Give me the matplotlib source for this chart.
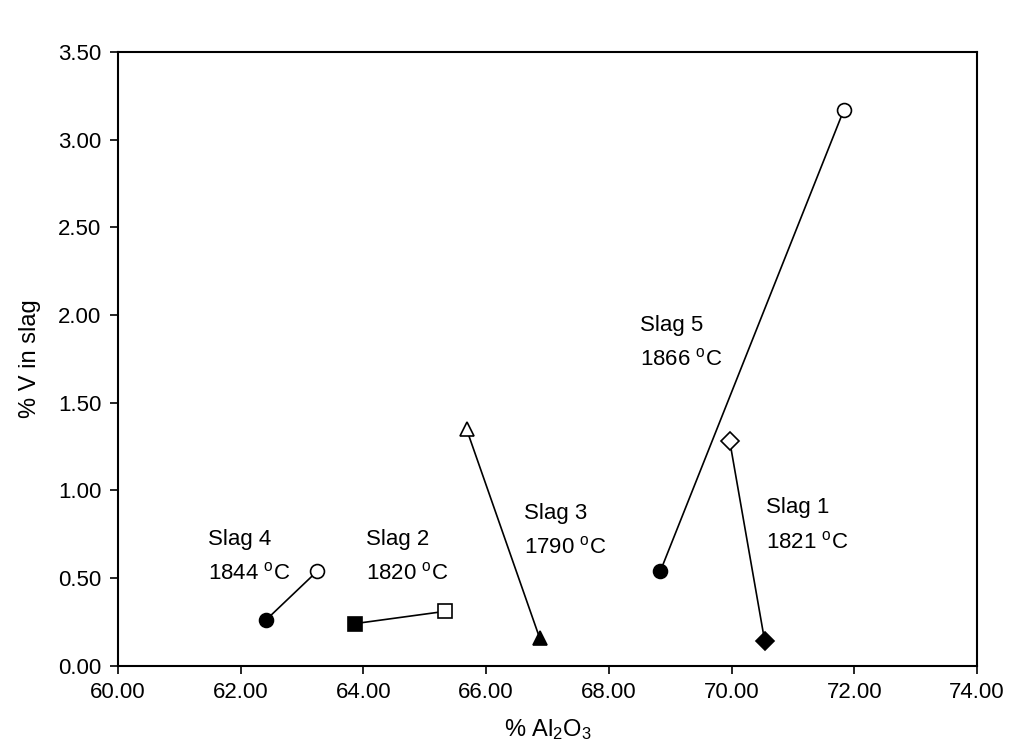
"""
% V in slag vs % Al2O3 for five slags: open marker = start, filled marker = end.
"""
import matplotlib
matplotlib.use("Agg")
import matplotlib.pyplot as plt

plt.rcParams["font.family"] = ["Liberation Sans", "DejaVu Sans"]
plt.rcParams["mathtext.fontset"] = "custom"
plt.rcParams["mathtext.rm"] = "Liberation Sans"
plt.rcParams["mathtext.it"] = "Liberation Sans"

slags = ["Slag 1", "Slag 2", "Slag 3", "Slag 4", "Slag 5"]
temps = [1821, 1820, 1790, 1844, 1866]
markers = ["D", "s", "^", "o", "o"]

al2o3_open = [69.97, 65.33, 65.68, 63.25, 71.83]
v_open = [1.28, 0.31, 1.35, 0.54, 3.17]
al2o3_filled = [70.54, 63.86, 66.87, 62.41, 68.84]
v_filled = [0.14, 0.24, 0.16, 0.26, 0.54]

# where the "Slag n / T oC" label sits (left, top)
label_x = [70.56, 64.04, 66.61, 61.46, 68.51]
label_y = [0.96, 0.78, 0.93, 0.78, 2.0]

fig = plt.figure(figsize=(10.11, 7.54), dpi=100)
ax = fig.add_axes([0.1167, 0.1171, 0.8497, 0.8139])

for i in range(len(slags)):
    ms = 9 if markers[i] == "D" else 10
    ax.plot([al2o3_open[i], al2o3_filled[i]], [v_open[i], v_filled[i]],
            "-", color="black", lw=1.2, zorder=2)
    ax.plot(al2o3_open[i], v_open[i], markers[i], ms=ms, mfc="white",
            mec="black", mew=1.2, zorder=3)
    ax.plot(al2o3_filled[i], v_filled[i], markers[i], ms=ms, mfc="black",
            mec="black", mew=1.2, zorder=3)
    ax.text(label_x[i], label_y[i],
            f"{slags[i]}\n{temps[i]} $^{{\\mathrm{{o}}}}$C",
            ha="left", va="top", fontsize=16, linespacing=1.75)

ax.set_xlim(60, 74)
ax.set_ylim(0, 3.5)
ax.set_xticks([60, 62, 64, 66, 68, 70, 72, 74])
ax.set_yticks([0, 0.5, 1.0, 1.5, 2.0, 2.5, 3.0, 3.5])
ax.xaxis.set_major_formatter(matplotlib.ticker.FormatStrFormatter("%.2f"))
ax.yaxis.set_major_formatter(matplotlib.ticker.FormatStrFormatter("%.2f"))
ax.tick_params(direction="out", length=6, width=1.2, labelsize=16, pad=6)
for s in ax.spines.values():
    s.set_linewidth(1.5)

ax.set_xlabel(r"% Al$_{\mathrm{2}}$O$_{\mathrm{3}}$", fontsize=17, labelpad=10)
ax.set_ylabel("% V in slag", fontsize=17, labelpad=12)

fig.savefig("out.png", dpi=100)
